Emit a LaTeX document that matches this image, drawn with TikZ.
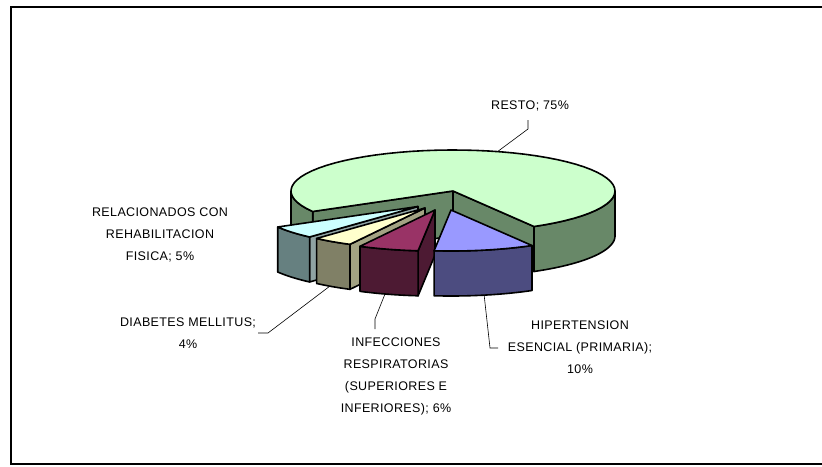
\documentclass[tikz,border=0pt]{standalone}
\usepackage{fontspec}
\setmainfont{Liberation Sans}[LetterSpace=3]
\usetikzlibrary{calc}
\definecolor{restotop}{RGB}{204,255,204}
\definecolor{restoside}{RGB}{104,136,104}
\definecolor{hiptop}{RGB}{153,153,255}
\definecolor{hipside}{RGB}{76,76,128}
\definecolor{inftop}{RGB}{153,51,102}
\definecolor{infside}{RGB}{77,26,51}
\definecolor{diatop}{RGB}{255,255,204}
\definecolor{diaside}{RGB}{128,128,102}
\definecolor{diarad}{RGB}{163,163,131}
\definecolor{reltop}{RGB}{204,255,255}
\definecolor{relside}{RGB}{102,128,128}
\definecolor{relrad}{RGB}{143,163,163}
\def\cx{453}\def\cy{191}\def\R{162}\def\r{41}\def\d{45}
% outer side of a slice from #1 to #2, colour #3
\newcommand\outerside[3]{%
  \filldraw[edge, fill=#3]
    plot[domain=#1:#2, samples=30] ({\cx+\R*cos(\x)},{\cy-\r*sin(\x)})
    -- plot[domain=#2:#1, samples=30] ({\cx+\R*cos(\x)},{\cy-\r*sin(\x)+\d})
    -- cycle;}
% radial face at angle #1, colour #2
\newcommand\radialface[2]{%
  \filldraw[edge, fill=#2] (\cx,\cy) -- ({\cx+\R*cos(#1)},{\cy-\r*sin(#1)})
    -- ({\cx+\R*cos(#1)},{\cy-\r*sin(#1)+\d}) -- (\cx,{\cy+\d}) -- cycle;}
% top face from #1 to #2, colour #3
\newcommand\topface[3]{%
  \filldraw[edge, fill=#3] (\cx,\cy)
    -- plot[domain=#1:#2, samples=60] ({\cx+\R*cos(\x)},{\cy-\r*sin(\x)})
    -- cycle;}
\begin{document}
\begin{tikzpicture}[x=1pt,y=-1pt,
  edge/.style={draw=black, line width=1.6pt, line join=round},
  lbl/.style={font=\fontsize{12.5}{22}\selectfont, align=center, inner sep=0pt, text=black},
  leader/.style={draw=black, line width=0.6pt}]
\useasboundingbox (0,0) rectangle (822,466);
\draw[line width=1.3pt] (11,7) rectangle (830,464);

% labels
\node[lbl] (resto) at (530,106) {RESTO; 75\%};
\node[lbl] (rel) at (160,235) {RELACIONADOS CON\\REHABILITACION\\FISICA; 5\%};
\node[lbl] (dia) at (188,333) {DIABETES MELLITUS;\\4\%};
\node[lbl] (inf) at (396,376) {INFECCIONES\\RESPIRATORIAS\\(SUPERIORES E\\INFERIORES); 6\%};
\node[lbl] (hip) at (580,347) {HIPERTENSION\\ESENCIAL (PRIMARIA);\\10\%};

% leader coordinates
\coordinate (r1) at (528,120); \coordinate (r2) at (528,129); \coordinate (r3) at (497,152);
\coordinate (d1) at (258,333); \coordinate (d2) at (268,333); \coordinate (d3) at (330,286);
\coordinate (i1) at (375,329); \coordinate (i2) at (375,319); \coordinate (i3) at (385,294);
\coordinate (h1) at (498,348); \coordinate (h2) at (490,348); \coordinate (h3) at (484,294);
\draw[leader] (r1) -- (r2) -- (r3);
\draw[leader] (d1) -- (d2) -- (d3);
\draw[leader] (i1) -- (i2) -- (i3);
\draw[leader] (h1) -- (h2) -- (h3);

% main slice RESTO
\radialface{-60}{restoside}
\radialface{210}{restoside}
\outerside{-60}{0}{restoside}
\outerside{180}{210}{restoside}
\topface{-60}{210}{restotop}

% RELACIONADOS
\begin{scope}[shift={(-35,15.5)}]
  \radialface{-132}{relrad}
  \outerside{-150}{-132}{relside}
  \topface{-150}{-132}{reltop}
\end{scope}
% DIABETES
\begin{scope}[shift={(-28,17)}]
  \radialface{-117.6}{diarad}
  \outerside{-132}{-117.6}{diaside}
  \topface{-132}{-117.6}{diatop}
\end{scope}
% INFECCIONES
\begin{scope}[shift={(-18,19)}]
  \radialface{-96}{infside}
  \outerside{-117.6}{-96}{infside}
  \topface{-117.6}{-96}{inftop}
\end{scope}
% HIPERTENSION
\begin{scope}[shift={(-2,19)}]
  \outerside{-96}{-60}{hipside}
  \topface{-96}{-60}{hiptop}
\end{scope}
\end{tikzpicture}
\end{document}
